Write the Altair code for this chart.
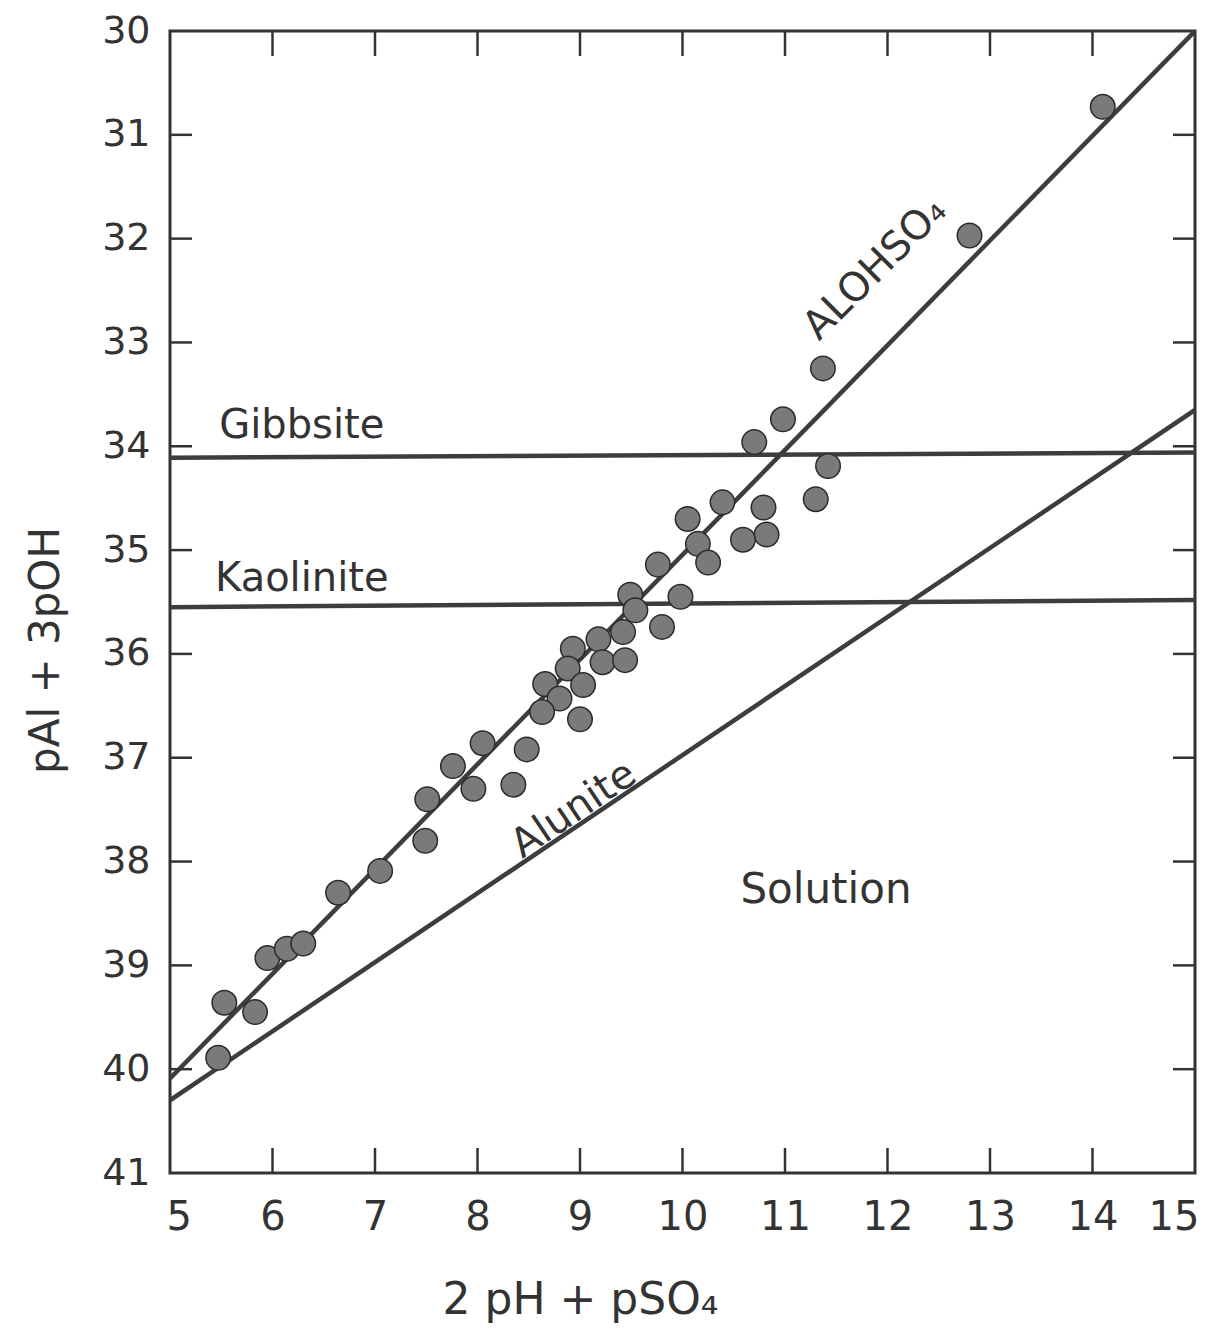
import altair as alt
import pandas as pd

# ---- data ----
pt_x = [14.10, 12.80, 11.37, 10.98, 10.70, 11.42, 11.30, 10.39, 10.79, 10.05,
        10.82, 10.59, 10.15, 10.25, 9.76, 9.98, 9.49, 9.54, 9.80, 9.42,
        9.18, 9.22, 9.44, 8.93, 8.88, 9.03, 8.66, 8.80, 8.63, 9.00,
        8.05, 8.48, 7.76, 7.96, 8.35, 7.51, 7.49, 7.05, 6.64, 5.95,
        6.14, 6.30, 5.53, 5.83, 5.47]
pt_y = [30.73, 31.97, 33.25, 33.74, 33.96, 34.19, 34.51, 34.54, 34.59, 34.70,
        34.85, 34.90, 34.94, 35.12, 35.14, 35.45, 35.43, 35.58, 35.74, 35.79,
        35.86, 36.08, 36.06, 35.95, 36.14, 36.30, 36.29, 36.43, 36.56, 36.63,
        36.86, 36.92, 37.08, 37.30, 37.26, 37.40, 37.80, 38.09, 38.30, 38.93,
        38.84, 38.79, 39.36, 39.45, 39.89]

line_name = ["ALOHSO4", "ALOHSO4", "Alunite", "Alunite",
             "Gibbsite", "Gibbsite", "Kaolinite", "Kaolinite"]
line_x = [5, 15, 5, 15, 5, 15, 5, 15]
line_y = [40.09, 30.0, 40.30, 33.65, 34.11, 34.06, 35.55, 35.48]

label_text = ["Gibbsite", "Kaolinite", "Solution", "ALOHSO\u2084", "Alunite"]
label_x = [5.48, 5.44, 11.40, 11.88, 8.94]
label_y = [33.92, 35.39, 38.27, 32.29, 37.50]

x_tick_labels = list(range(5, 16))
y_tick_labels = list(range(30, 42))
x_inner_ticks = list(range(6, 15))
y_inner_ticks = list(range(31, 41))

W, H = 1025, 1142
FONT = "DejaVu Sans"
INK = "#333333"

pts = pd.DataFrame({"x": pt_x, "y": pt_y})
lines = pd.DataFrame({"name": line_name, "x": line_x, "y": line_y})
labels = pd.DataFrame({"t": label_text, "x": label_x, "y": label_y})
xt = pd.DataFrame({"v": x_inner_ticks})
yt = pd.DataFrame({"v": y_inner_ticks})

xs = alt.Scale(domain=[5, 15], nice=False, zero=False)
ys = alt.Scale(domain=[30, 41], nice=False, zero=False, reverse=True)

X = alt.X("x:Q", scale=xs,
          axis=alt.Axis(values=x_tick_labels, format="d", labelOverlap=False,
                        labelFlush=True, labelFlushOffset=4,
                        title="2 pH + pSO\u2084",
                        labelFontSize=40, labelPadding=24, titleFontSize=44,
                        titleX=410, titleY=127, titleBaseline="middle",
                        titleAlign="center"))
Y = alt.Y("y:Q", scale=ys,
          axis=alt.Axis(values=y_tick_labels, format="d", labelOverlap=False,
                        labelFlush=False, title="pAl + 3pOH",
                        labelFontSize=38, labelPadding=20, titleFontSize=42,
                        titleX=-125, titleY=619, titleAngle=270,
                        titleBaseline="middle", titleAlign="center"))

line_layer = alt.Chart(lines).mark_line(color="#3d3d3d", strokeWidth=4.5, clip=True).encode(
    x=X, y=Y, detail="name:N")

point_layer = alt.Chart(pts).mark_circle(
    size=600, color="#7a7a7a", opacity=1, stroke="#2b2b2b", strokeWidth=1.5
).encode(x=alt.X("x:Q", scale=xs), y=alt.Y("y:Q", scale=ys))

def text_layer(idx, **kw):
    d = labels.iloc[idx]
    return alt.Chart(d).mark_text(font=FONT, color=INK, **kw).encode(
        x=alt.X("x:Q", scale=xs), y=alt.Y("y:Q", scale=ys), text="t:N")

t_flat = text_layer([0, 1], align="left", baseline="alphabetic", fontSize=40)
t_sol = text_layer([2], align="center", baseline="middle", fontSize=42)
t_al = text_layer([3], align="center", baseline="middle", fontSize=40, angle=315)
t_alu = text_layer([4], align="center", baseline="middle", fontSize=40, angle=326)

tick_style = dict(color=INK, strokeWidth=2.5)
top_ticks = alt.Chart(xt).mark_rule(**tick_style).encode(
    x=alt.X("v:Q", scale=xs), y=alt.value(0), y2=alt.value(25))
bot_ticks = alt.Chart(xt).mark_rule(**tick_style).encode(
    x=alt.X("v:Q", scale=xs), y=alt.value(H - 25), y2=alt.value(H))
left_ticks = alt.Chart(yt).mark_rule(**tick_style).encode(
    y=alt.Y("v:Q", scale=ys), x=alt.value(0), x2=alt.value(22))
right_ticks = alt.Chart(yt).mark_rule(**tick_style).encode(
    y=alt.Y("v:Q", scale=ys), x=alt.value(W - 22), x2=alt.value(W))

chart = alt.layer(
    line_layer, point_layer, t_flat, t_sol, t_al, t_alu,
    top_ticks, bot_ticks, left_ticks, right_ticks
).properties(
    width=W, height=H,
    autosize=alt.AutoSizeParams(type="none"),
    padding={"left": 162, "top": 23, "right": 9, "bottom": 152},
    background="white",
).configure_view(
    stroke=INK, strokeWidth=3
).configure_axis(
    labelFont=FONT, titleFont=FONT, labelColor=INK, titleColor=INK,
    titleFontWeight="normal", domain=False, ticks=False, grid=False
)

chart.save("out.html", embed_options={"renderer": "svg", "actions": False})
